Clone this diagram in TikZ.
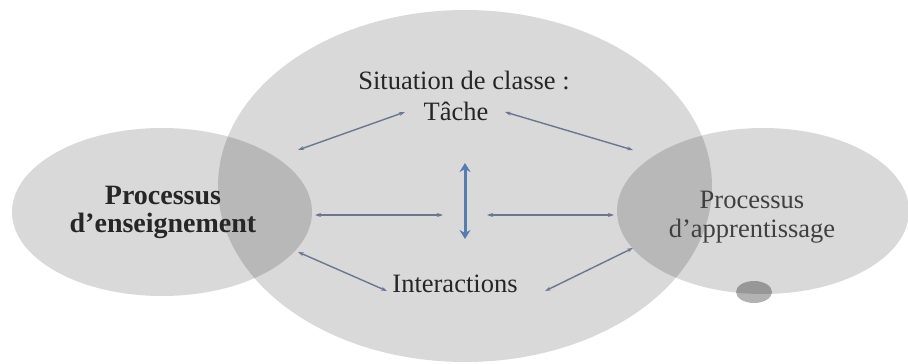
\documentclass[tikz,border=0pt]{standalone}
\usepackage{fontspec}
\setmainfont{Liberation Serif}
\usetikzlibrary{arrows.meta}
\begin{document}
\begin{tikzpicture}[x=1pt,y=-1pt,
  blob/.style={fill=black,fill opacity=0.15,draw=none},
  thinarrow/.style={draw={rgb,255:red,105;green,120;blue,145},line width=1.4pt,{Stealth[length=6pt,width=4pt]}-{Stealth[length=6pt,width=4pt]}},
  thickarrow/.style={draw={rgb,255:red,85;green,125;blue,175},line width=3pt,{Stealth[length=9pt,width=11pt]}-{Stealth[length=9pt,width=11pt]}},
  lbl/.style={font=\fontsize{26.5}{29}\selectfont,text=black!85,align=center,inner sep=1pt}]
\useasboundingbox (0,0) rectangle (908,364);
\fill[white] (0,0) rectangle (908,364);
\fill[blob] (465,186) ellipse [x radius=247, y radius=176];
\fill[blob] (162,212) ellipse [x radius=150, y radius=84];
\fill[blob] (763,211) ellipse [x radius=146, y radius=83];
\fill[black,opacity=0.3] (754,292) ellipse [x radius=18, y radius=11];
\node[lbl] (sit) at (464,80) {Situation de classe :};
\node[lbl] (tache) at (456,111) {Tâche};
\node[lbl] (inter) at (455,284) {Interactions};
\node[lbl,font=\fontsize{28}{28}\selectfont\bfseries] (ens) at (163,212) {Processus\\d'enseignement};
\node[lbl,text=black!75,font=\fontsize{26.5}{29}\selectfont] (app) at (752,217) {Processus\\d'apprentissage};
\coordinate (a1) at (298,150); \coordinate (a2) at (405,112);
\coordinate (b1) at (505,112); \coordinate (b2) at (633,150);
\coordinate (c1) at (315,215); \coordinate (c2) at (443,215);
\coordinate (d1) at (487,215); \coordinate (d2) at (614,215);
\coordinate (e1) at (298,252); \coordinate (e2) at (387,291);
\coordinate (f1) at (545,291); \coordinate (f2) at (633,248);
\coordinate (v1) at (465,163); \coordinate (v2) at (465,239);
\draw[thinarrow] (a1) -- (a2);
\draw[thinarrow] (b1) -- (b2);
\draw[thinarrow] (c1) -- (c2);
\draw[thinarrow] (d1) -- (d2);
\draw[thinarrow] (e1) -- (e2);
\draw[thinarrow] (f1) -- (f2);
\draw[thickarrow] (v1) -- (v2);
\end{tikzpicture}
\end{document}
